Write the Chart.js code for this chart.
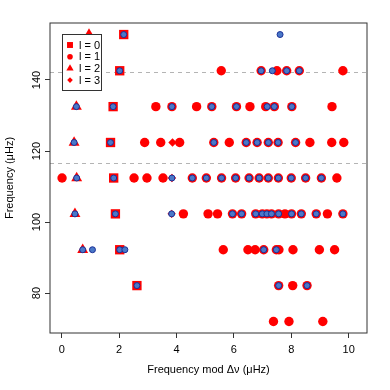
<!DOCTYPE html>
<html>
<head>
<meta charset="utf-8">
<script src="https://cdn.jsdelivr.net/npm/chart.js@4.4.1/dist/chart.umd.min.js"></script>
<style>
  html, body { margin: 0; padding: 0; background: #fff; }
  canvas { display: block; }
</style>
</head>
<body>
<canvas id="echelle" width="390" height="390"></canvas>
<script>
// Echelle diagram - each row is one radial order, x = frequency mod delta-nu
const rowFreq = [152.8, 142.6, 132.5, 122.4, 112.4, 102.3, 92.2, 82.1, 72.0];

// model modes by degree, one sub-array per row above
const l0Rows = [[2.16], [2.02], [1.79], [1.70], [1.81], [1.87], [2.02], [2.62], []];
const l1Rows = [
  [],
  [5.56, 6.95, 7.50, 7.84, 8.28, 9.80],
  [3.28, 3.84, 4.70, 5.23, 6.09, 6.56, 7.11, 7.41, 8.02, 9.42],
  [2.89, 3.45, 4.11, 5.30, 5.84, 6.43, 6.81, 7.20, 7.54, 8.15, 8.65, 9.41, 9.83],
  [0.01, 2.52, 2.97, 3.53, 4.55, 5.04, 5.57, 6.06, 6.53, 6.88, 7.20, 7.55, 8.00, 8.50, 9.05, 9.59],
  [4.24, 5.10, 5.43, 5.95, 6.27, 6.76, 6.99, 7.15, 7.31, 7.56, 7.78, 8.01, 8.35, 8.87, 9.26, 9.80],
  [5.63, 6.49, 6.74, 7.04, 7.48, 7.57, 8.06, 8.98, 9.51],
  [7.56, 8.05, 8.55],
  [7.38, 7.92, 9.10]
];
const l2Rows = [[0.95], [], [0.51], [0.43], [0.52], [0.46], [0.73], [], []];
const l3Rows = [[], [], [], [3.86], [3.84], [3.83], [], [], []];

// observed frequencies (blue)
const obsRows = [
  [2.16, 7.61],
  [2.02, 6.95, 7.34, 7.84, 8.28],
  [0.51, 1.79, 3.84, 5.23, 6.09, 7.16, 7.41, 8.02],
  [0.43, 1.70, 5.30, 6.43, 6.81, 7.20, 7.54, 8.15],
  [0.52, 1.81, 3.84, 4.55, 5.04, 5.57, 6.06, 6.53, 6.88, 7.20, 7.55, 8.00, 8.50, 9.05],
  [0.46, 1.87, 3.83, 5.95, 6.27, 6.76, 6.99, 7.15, 7.31, 7.56, 8.01, 8.35, 8.87, 9.80],
  [0.73, 1.07, 2.02, 2.20, 7.04, 7.48],
  [2.62, 7.56, 8.55],
  []
];

const refLines = [142.2, 116.5];
const xTicks = [0, 2, 4, 6, 8, 10];
const yTicks = [80, 100, 120, 140];
const legendLabels = ['l = 0', 'l = 1', 'l = 2', 'l = 3'];

const RED = '#ff0000';
const FONT = '"Liberation Sans", Arial, sans-serif';

function toPoints(rows) {
  const pts = [];
  rows.forEach((mods, i) => {
    mods.forEach((m) => pts.push({ x: m, y: rowFreq[i] }));
  });
  return pts;
}

function shape(ctx, style, r, x, y) {
  ctx.beginPath();
  if (style === 'rect') {
    const s = r * Math.SQRT1_2;
    ctx.rect(x - s, y - s, 2 * s, 2 * s);
  } else if (style === 'triangle') {
    ctx.moveTo(x, y - r);
    ctx.lineTo(x + r * 0.866, y + r / 2);
    ctx.lineTo(x - r * 0.866, y + r / 2);
    ctx.closePath();
  } else if (style === 'rectRot') {
    ctx.moveTo(x, y - r);
    ctx.lineTo(x + r, y);
    ctx.lineTo(x, y + r);
    ctx.lineTo(x - r, y);
    ctx.closePath();
  } else {
    ctx.arc(x, y, r, 0, Math.PI * 2);
  }
  ctx.fill();
}

const decor = {
  id: 'echelleDecor',
  beforeDatasetsDraw(chart) {
    const { ctx, chartArea, scales } = chart;
    ctx.save();
    ctx.strokeStyle = '#b4b4b4';
    ctx.lineWidth = 1;
    ctx.setLineDash([4, 4]);
    refLines.forEach((v) => {
      const py = Math.round(scales.y.getPixelForValue(v)) + 0.5;
      ctx.beginPath();
      ctx.moveTo(chartArea.left, py);
      ctx.lineTo(chartArea.right, py);
      ctx.stroke();
    });
    ctx.restore();
  },
  afterDraw(chart) {
    const { ctx, chartArea, scales } = chart;
    ctx.save();

    // plot box
    ctx.strokeStyle = '#333';
    ctx.lineWidth = 1;
    ctx.strokeRect(chartArea.left, chartArea.top,
      chartArea.right - chartArea.left, chartArea.bottom - chartArea.top);

    // y tick labels, parallel to axis like R
    ctx.fillStyle = '#000';
    ctx.font = '11px ' + FONT;
    ctx.textAlign = 'center';
    ctx.textBaseline = 'middle';
    yTicks.forEach((v) => {
      const py = scales.y.getPixelForValue(v);
      ctx.save();
      ctx.translate(37, py);
      ctx.rotate(-Math.PI / 2);
      ctx.fillText(String(v), 0, 0);
      ctx.restore();
    });

    // legend box
    const lx = 62, ly = 34, lw = 39, lh = 56;
    ctx.fillStyle = '#fff';
    ctx.fillRect(lx, ly, lw, lh);
    ctx.strokeStyle = '#333';
    ctx.strokeRect(lx + 0.5, ly + 0.5, lw, lh);
    const styles = [['rect', 4.2], ['circle', 2.8], ['triangle', 4.2], ['rectRot', 2.8]];
    ctx.textAlign = 'left';
    legendLabels.forEach((txt, i) => {
      const ey = 45 + i * 11.7;
      ctx.fillStyle = RED;
      shape(ctx, styles[i][0], styles[i][1], 70, ey);
      ctx.fillStyle = '#000';
      ctx.fillText(txt, 79, ey + 0.5);
    });

    ctx.restore();
  }
};

new Chart(document.getElementById('echelle'), {
  type: 'scatter',
  data: {
    datasets: [
      {
        label: 'observed',
        data: toPoints(obsRows),
        pointStyle: 'circle',
        pointRadius: 3,
        backgroundColor: '#4a78c8',
        borderColor: '#1a2f96',
        borderWidth: 1
      },
      {
        label: 'l = 3',
        data: toPoints(l3Rows),
        pointStyle: 'rectRot',
        pointRadius: 4.2,
        backgroundColor: RED,
        borderWidth: 0
      },
      {
        label: 'l = 2',
        data: toPoints(l2Rows),
        pointStyle: 'triangle',
        pointRadius: 6.3,
        backgroundColor: RED,
        borderWidth: 0
      },
      {
        label: 'l = 1',
        data: toPoints(l1Rows),
        pointStyle: 'circle',
        pointRadius: 4.7,
        backgroundColor: RED,
        borderWidth: 0
      },
      {
        label: 'l = 0',
        data: toPoints(l0Rows),
        pointStyle: 'rect',
        pointRadius: 6.6,
        backgroundColor: RED,
        borderWidth: 0
      }
    ]
  },
  options: {
    responsive: false,
    animation: false,
    devicePixelRatio: 1,
    layout: { padding: { top: 23, right: 23, left: 0, bottom: 0 } },
    plugins: {
      legend: { display: false },
      tooltip: { enabled: false }
    },
    scales: {
      x: {
        type: 'linear',
        min: -0.41,
        max: 10.64,
        afterBuildTicks: (s) => { s.ticks = xTicks.map((v) => ({ value: v })); },
        afterFit: (s) => { s.height = 57; },
        border: { display: false },
        grid: { drawOnChartArea: false, drawTicks: true, tickLength: 5, color: '#333' },
        ticks: { color: '#000', font: { family: FONT, size: 11 }, padding: 5, maxRotation: 0 },
        title: {
          display: true,
          text: 'Frequency mod \u0394\u03bd (\u03bcHz)',
          color: '#000',
          font: { family: FONT, size: 11 },
          padding: { top: 0, bottom: 13 }
        }
      },
      y: {
        type: 'linear',
        min: 68.75,
        max: 156.05,
        afterBuildTicks: (s) => { s.ticks = yTicks.map((v) => ({ value: v })); },
        afterFit: (s) => { s.width = 50; },
        border: { display: false },
        grid: { drawOnChartArea: false, drawTicks: true, tickLength: 5, color: '#333' },
        ticks: { display: false },
        title: {
          display: true,
          text: 'Frequency (\u03bcHz)',
          color: '#000',
          font: { family: FONT, size: 11 },
          padding: { top: 3, bottom: 0 }
        }
      }
    }
  },
  plugins: [decor]
});
</script>
</body>
</html>
